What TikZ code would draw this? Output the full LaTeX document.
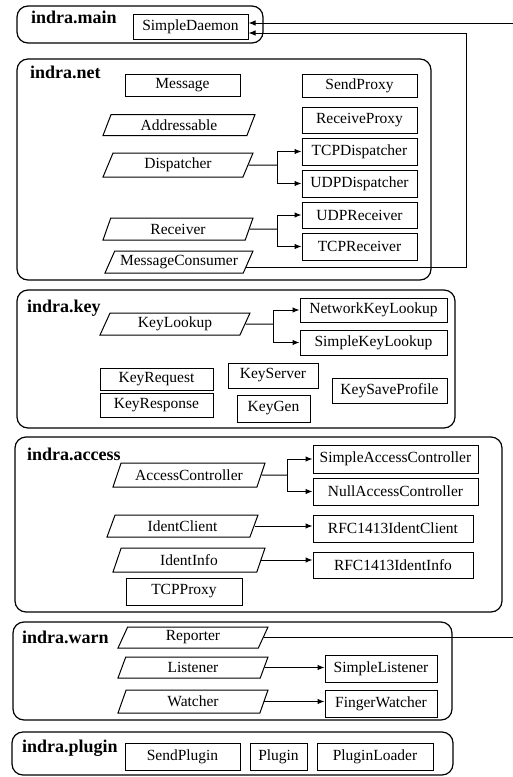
\documentclass[tikz,border=0pt]{standalone}
\usepackage{fontspec}
\setmainfont{Liberation Serif}
\usetikzlibrary{shapes.geometric,arrows.meta}
\begin{document}
\begin{tikzpicture}[x=1pt,y=-1pt,
  pkgframe/.style={draw, line width=1.2pt, rounded corners=11pt, inner sep=0pt},
  pkglabel/.style={anchor=base west, inner sep=0pt, font=\fontsize{18}{20}\selectfont\bfseries},
  cls/.style={draw, line width=1pt, inner sep=0pt, font=\fontsize{15.5}{17}\selectfont},
  iface/.style={draw, line width=1pt, trapezium, trapezium left angle=58,
    trapezium right angle=122, trapezium stretches body, inner sep=1pt,
    font=\fontsize{15.5}{17}\selectfont},
  arr/.style={line width=1pt, -{Latex[length=7pt,width=5.5pt]}},
  link/.style={line width=1pt}]
\useasboundingbox (0,0) rectangle (513,777);

% ---------- package frames and titles ----------
\node[pkgframe, minimum width=246, minimum height=37]  (pmain)   at (140,24.5)   {};
\node[pkgframe, minimum width=414, minimum height=221] (pnet)    at (224,169.5)  {};
\node[pkgframe, minimum width=438, minimum height=138] (pkey)    at (236,359)    {};
\node[pkgframe, minimum width=487, minimum height=175] (paccess) at (258.5,524.5){};
\node[pkgframe, minimum width=439, minimum height=98]  (pwarn)   at (232.5,671)  {};
\node[pkgframe, minimum width=441, minimum height=43]  (pplugin) at (232.5,753.5){};

\node[pkglabel] (lmain)   at (31,23)  {indra.main};
\node[pkglabel] (lnet)    at (30,78)  {indra.net};
\node[pkglabel] (lkey)    at (27,312) {indra.key};
\node[pkglabel] (laccess) at (27,460) {indra.access};
\node[pkglabel] (lwarn)   at (22,643) {indra.warn};
\node[pkglabel] (lplugin) at (22,752) {indra.plugin};

% ---------- indra.main ----------
\node[cls, minimum width=115, minimum height=25] (sd) at (190.5,26.5) {SimpleDaemon};

% ---------- indra.net ----------
\node[cls, minimum width=115, minimum height=22] (msg)  at (182.5,85)  {Message};
\node[cls, minimum width=115, minimum height=23] (sp)   at (359.5,86)  {SendProxy};
\node[cls, minimum width=115, minimum height=26] (rp)   at (359.5,120) {ReceiveProxy};
\node[iface, minimum width=152, minimum height=21] (addr) at (179,125) {Addressable};
\node[iface, minimum width=150, minimum height=24] (disp) at (178,165) {Dispatcher};
\node[iface, minimum width=150, minimum height=22] (rcv)  at (178,229) {Receiver};
\node[iface, minimum width=148, minimum height=22] (mc)   at (179,262) {MessageConsumer};
\node[cls, minimum width=115, minimum height=27] (tcpd) at (359.5,151.5) {TCPDispatcher};
\node[cls, minimum width=115, minimum height=27] (udpd) at (359.5,183.5) {UDPDispatcher};
\node[cls, minimum width=115, minimum height=26] (udpr) at (359.5,215)   {UDPReceiver};
\node[cls, minimum width=115, minimum height=27] (tcpr) at (359.5,246.5) {TCPReceiver};

\coordinate (jd) at (277,165);
\draw[link] (disp.east) -- (jd);
\draw[arr] (jd) |- (tcpd.west);
\draw[arr] (jd) |- (udpd.west);
\coordinate (jr) at (277,229);
\draw[link] (rcv.east) -- (jr);
\draw[arr] (jr) |- (udpr.west);
\draw[arr] (jr) |- (tcpr.west);

% ---------- indra.key ----------
\node[iface, minimum width=150, minimum height=22] (kl) at (175,324) {KeyLookup};
\node[cls, minimum width=147, minimum height=24] (nkl)  at (373.5,310)   {NetworkKeyLookup};
\node[cls, minimum width=147, minimum height=25] (skl)  at (373.5,342.5) {SimpleKeyLookup};
\node[cls, minimum width=113, minimum height=22] (kreq) at (156.5,379)   {KeyRequest};
\node[cls, minimum width=90,  minimum height=25] (ksrv) at (273,375.5)   {KeyServer};
\node[cls, minimum width=113, minimum height=24] (kres) at (156.5,405)   {KeyResponse};
\node[cls, minimum width=73,  minimum height=27] (kgen) at (273.5,408.5) {KeyGen};
\node[cls, minimum width=115, minimum height=25] (ksp)  at (389.5,390.5) {KeySaveProfile};

\coordinate (jk) at (273,324);
\draw[link] (kl.east) -- (jk);
\draw[arr] (jk) |- (nkl.west);
\draw[arr] (jk) |- (skl.west);

% ---------- indra.access ----------
\node[iface, minimum width=152, minimum height=24] (ac) at (189,475)   {AccessController};
\node[iface, minimum width=151, minimum height=22] (ic) at (182.5,526) {IdentClient};
\node[iface, minimum width=152, minimum height=24] (ii) at (189,560)   {IdentInfo};
\node[cls, minimum width=165, minimum height=28] (sac) at (395.5,459)   {SimpleAccessController};
\node[cls, minimum width=165, minimum height=27] (nac) at (395.5,491.5) {NullAccessController};
\node[cls, minimum width=160, minimum height=27] (rfc) at (393,528.5)   {RFC1413IdentClient};
\node[cls, minimum width=160, minimum height=26] (rfi) at (393,565)     {RFC1413IdentInfo};
\node[cls, minimum width=116, minimum height=27] (tcpp) at (184,591.5)  {TCPProxy};

\coordinate (ja) at (287,475);
\draw[link] (ac.east) -- (ja);
\draw[arr] (ja) |- (sac.west);
\draw[arr] (ja) |- (nac.west);
\draw[arr] (ic.east) -- (ic.east -| rfc.west);
\draw[arr] (ii.east) -- (ii.east -| rfi.west);

% ---------- indra.warn ----------
\node[iface, minimum width=150, minimum height=21] (rep) at (193,637.5) {Reporter};
\node[iface, minimum width=150, minimum height=21] (lis) at (193,667.5) {Listener};
\node[iface, minimum width=150, minimum height=23] (wat) at (193,701.5) {Watcher};
\node[cls, minimum width=112, minimum height=27] (sl) at (381,668.5) {SimpleListener};
\node[cls, minimum width=112, minimum height=27] (fw) at (381,703.5) {FingerWatcher};
\draw[arr] (lis.east) -- (lis.east -| sl.west);
\draw[arr] (wat.east) -- (wat.east -| fw.west);

% ---------- indra.plugin ----------
\node[cls, minimum width=115, minimum height=27] (spl) at (182.5,756.5) {SendPlugin};
\node[cls, minimum width=57,  minimum height=27] (pl)  at (278.5,756.5) {Plugin};
\node[cls, minimum width=116, minimum height=27] (pll) at (375,756.5)   {PluginLoader};

% ---------- links into SimpleDaemon ----------
\coordinate (rout) at (513,639);
\draw[link] (rep.east) -- (rep.east -| rout);
\coordinate (rin) at (513,23);
\draw[arr] (rin) -- (rin -| sd.east);
\coordinate (sdbend) at (466,33);
\draw[arr] (mc.-5) -| (sdbend) -- (sdbend -| sd.east);
\end{tikzpicture}
\end{document}
